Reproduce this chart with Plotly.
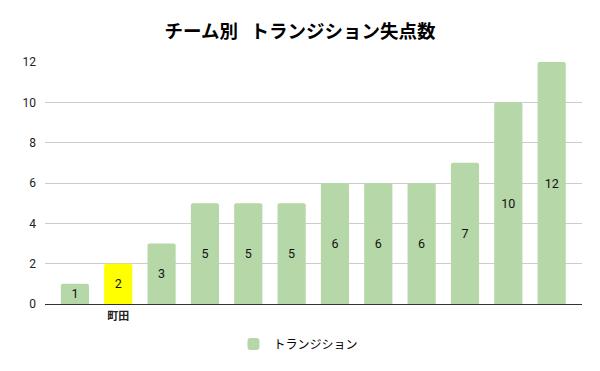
import plotly.graph_objects as go

categories = ["", "町田", "", "", "", "", "", "", "", "", "", ""]
values = [1, 2, 3, 5, 5, 5, 6, 6, 6, 7, 10, 12]
highlight = "町田"
series_name = "トランジション"
title = "チーム別  トランジション失点数"

GREEN = "#b6d7a8"
YELLOW = "#ffff00"
colors = [YELLOW if c == highlight else GREEN for c in categories]
xs = list(range(len(values)))

fig = go.Figure()
fig.add_trace(go.Bar(
    x=xs, y=values, name=series_name,
    marker=dict(color=colors, cornerradius=2, line=dict(width=0)),
    width=0.65,
    text=[str(v) for v in values],
    textposition="inside", insidetextanchor="middle", textangle=0,
    constraintext="none",
    textfont=dict(color="#111111", size=12.5, family="Roboto, Arial"),
    showlegend=True,
))

fig.update_layout(
    width=600, height=371,
    margin=dict(l=45, r=18, t=62, b=67),
    paper_bgcolor="white", plot_bgcolor="white",
    title=dict(text="<b>" + title.replace("  ", "&nbsp;&nbsp;&nbsp;") + "</b>", x=0.5, xanchor="center",
               y=0.914, yanchor="middle",
               font=dict(size=18.5, color="#000000", family="Noto Sans CJK JP")),
    xaxis=dict(range=[-0.69, 11.70], tickvals=xs, ticktext=["<b>" + c + "</b>" if c else "" for c in categories],
               showgrid=False,
               tickfont=dict(size=11, color="#222222", family="Noto Sans CJK JP"),
               showline=False, zeroline=False, ticks="", ticklabelstandoff=4),
    yaxis=dict(range=[0, 12], dtick=2, showgrid=True, gridcolor="#cccccc",
               tickfont=dict(size=12, color="#222222", family="Roboto, Arial"),
               zeroline=True, zerolinecolor="#333333", zerolinewidth=1, ticks="",
               ticklabelstandoff=8),
    legend=dict(orientation="h", x=0.472, xanchor="center", y=-0.165, yanchor="middle",
                itemwidth=30,
                font=dict(size=12, color="#000000", family="Noto Sans CJK JP")),
)

fig.write_html("out.html", config={"displayModeBar": False},
               post_script="document.body.style.margin='0';document.body.style.overflow='hidden';")
